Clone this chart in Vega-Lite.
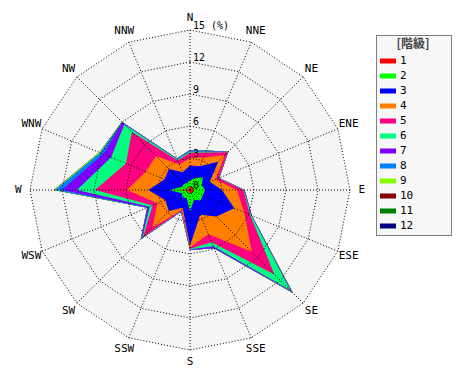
{
  "$schema": "https://vega.github.io/schema/vega-lite/v6.json",
  "width": 320,
  "height": 320,
  "autosize": "none",
  "padding": {"left": 30, "top": 30, "right": 120, "bottom": 30},
  "background": "white",
  "config": {"view": {"stroke": null}},
  "datasets": {
    "freq": [
      {"d": "N", "i": 0, "1": 0.3, "2": 0.6, "3": 1.4, "4": 0.7, "5": 0.5, "6": 0.1, "7": 0.05, "8": 0.1, "9": 0, "10": 0, "11": 0, "12": 0},
      {"d": "NNE", "i": 1, "1": 0.3, "2": 0.9, "3": 1.2, "4": 0.9, "5": 0.5, "6": 0.1, "7": 0.05, "8": 0.05, "9": 0, "10": 0, "11": 0, "12": 0},
      {"d": "NE", "i": 2, "1": 0.3, "2": 1.4, "3": 2.05, "4": 0.85, "5": 0.4, "6": 0.02, "7": 0.03, "8": 0.03, "9": 0, "10": 0, "11": 0, "12": 0},
      {"d": "ENE", "i": 3, "1": 0.3, "2": 0.9, "3": 0.8, "4": 0.6, "5": 0.3, "6": 0.02, "7": 0.03, "8": 0.02, "9": 0, "10": 0, "11": 0, "12": 0},
      {"d": "E", "i": 4, "1": 0.3, "2": 1.1, "3": 1.6, "4": 1.4, "5": 0.6, "6": 0.05, "7": 0.05, "8": 0.02, "9": 0, "10": 0, "11": 0, "12": 0},
      {"d": "ESE", "i": 5, "1": 0.3, "2": 1.0, "3": 3.2, "4": 1.0, "5": 0.6, "6": 0.1, "7": 0.05, "8": 0.03, "9": 0, "10": 0, "11": 0, "12": 0},
      {"d": "SE", "i": 6, "1": 0.3, "2": 1.1, "3": 2.1, "4": 4.7, "5": 3.0, "6": 2.1, "7": 0.2, "8": 0.05, "9": 0.1, "10": 0, "11": 0, "12": 0},
      {"d": "SSE", "i": 7, "1": 0.3, "2": 0.7, "3": 1.5, "4": 2.0, "5": 0.8, "6": 0.4, "7": 0.2, "8": 0.02, "9": 0, "10": 0, "11": 0, "12": 0},
      {"d": "S", "i": 8, "1": 0.3, "2": 1.7, "3": 3.2, "4": 0.2, "5": 0.1, "6": 0.05, "7": 0.05, "8": 0.02, "9": 0, "10": 0, "11": 0, "12": 0},
      {"d": "SSW", "i": 9, "1": 0.2, "2": 0.6, "3": 1.0, "4": 0.2, "5": 0.1, "6": 0.05, "7": 0.05, "8": 0, "9": 0, "10": 0, "11": 0, "12": 0},
      {"d": "SW", "i": 10, "1": 0.2, "2": 0.8, "3": 1.8, "4": 2.2, "5": 1.2, "6": 0.15, "7": 0.15, "8": 0.02, "9": 0, "10": 0, "11": 0, "12": 0},
      {"d": "WSW", "i": 11, "1": 0.2, "2": 0.6, "3": 1.7, "4": 0.8, "5": 0.5, "6": 0.3, "7": 0.2, "8": 0.05, "9": 0, "10": 0, "11": 0, "12": 0},
      {"d": "W", "i": 12, "1": 1.2, "2": 0.7, "3": 2.0, "4": 2.0, "5": 3.0, "6": 1.7, "7": 1.4, "8": 0.65, "9": 0.1, "10": 0, "11": 0, "12": 0},
      {"d": "WNW", "i": 13, "1": 0.2, "2": 0.6, "3": 1.8, "4": 1.9, "5": 2.0, "6": 1.5, "7": 0.8, "8": 0.3, "9": 0.1, "10": 0, "11": 0, "12": 0},
      {"d": "NW", "i": 14, "1": 0.2, "2": 0.6, "3": 2.0, "4": 1.7, "5": 3.2, "6": 1.0, "7": 0.25, "8": 0.05, "9": 0.02, "10": 0, "11": 0, "12": 0},
      {"d": "NNW", "i": 15, "1": 0.2, "2": 0.5, "3": 1.1, "4": 0.8, "5": 0.4, "6": 0.1, "7": 0.05, "8": 0.05, "9": 0, "10": 0, "11": 0, "12": 0}
    ],
    "dirs": [
      {"d": "N", "i": 0}, {"d": "NNE", "i": 1}, {"d": "NE", "i": 2}, {"d": "ENE", "i": 3},
      {"d": "E", "i": 4}, {"d": "ESE", "i": 5}, {"d": "SE", "i": 6}, {"d": "SSE", "i": 7},
      {"d": "S", "i": 8}, {"d": "SSW", "i": 9}, {"d": "SW", "i": 10}, {"d": "WSW", "i": 11},
      {"d": "W", "i": 12}, {"d": "WNW", "i": 13}, {"d": "NW", "i": 14}, {"d": "NNW", "i": 15}
    ],
    "levels": [
      {"lv": 3, "i": [0,1,2,3,4,5,6,7,8,9,10,11,12,13,14,15]},
      {"lv": 6, "i": [0,1,2,3,4,5,6,7,8,9,10,11,12,13,14,15]},
      {"lv": 9, "i": [0,1,2,3,4,5,6,7,8,9,10,11,12,13,14,15]},
      {"lv": 12, "i": [0,1,2,3,4,5,6,7,8,9,10,11,12,13,14,15]},
      {"lv": 15, "i": [0,1,2,3,4,5,6,7,8,9,10,11,12,13,14,15]}
    ],
    "ticks": [
      {"lv": 0, "t": "0"}, {"lv": 3, "t": "3"}, {"lv": 6, "t": "6"},
      {"lv": 9, "t": "9"}, {"lv": 12, "t": "12"}, {"lv": 15, "t": "15\u00a0(%)"}
    ]
  },
  "layer": [
    {
      "data": {"name": "levels"},
      "transform": [
        {"flatten": ["i"]},
        {"filter": "datum.lv == 15"},
        {"calculate": "datum.lv * sin(datum.i * PI / 8)", "as": "x"},
        {"calculate": "datum.lv * cos(datum.i * PI / 8)", "as": "y"}
      ],
      "mark": {"type": "line", "interpolate": "linear-closed", "filled": true, "fill": "#f5f5f5", "stroke": null},
      "encoding": {
        "x": {"field": "x", "type": "quantitative", "scale": {"domain": [-15, 15], "nice": false, "zero": false}, "axis": null},
        "y": {"field": "y", "type": "quantitative", "scale": {"domain": [-15, 15], "nice": false, "zero": false}, "axis": null},
        "order": {"field": "i", "type": "quantitative"}
      }
    },
    {
      "data": {"name": "freq"},
      "transform": [
        {"fold": ["12", "11", "10", "9", "8", "7", "6", "5", "4", "3", "2", "1"], "as": ["cls", "v"]},
        {"calculate": "toNumber(datum.cls)", "as": "k"},
        {"stack": "v", "groupby": ["d"], "sort": [{"field": "k", "order": "ascending"}], "as": ["r0", "r1"]},
        {"calculate": "datum.r1 * sin(datum.i * PI / 8)", "as": "x"},
        {"calculate": "datum.r1 * cos(datum.i * PI / 8)", "as": "y"}
      ],
      "mark": {"type": "line", "interpolate": "linear-closed", "filled": true, "strokeWidth": 0},
      "encoding": {
        "x": {"field": "x", "type": "quantitative", "scale": {"domain": [-15, 15], "nice": false, "zero": false}, "axis": null},
        "y": {"field": "y", "type": "quantitative", "scale": {"domain": [-15, 15], "nice": false, "zero": false}, "axis": null},
        "order": {"field": "i", "type": "quantitative"},
        "color": {
          "field": "cls", "type": "nominal",
          "scale": {
            "domain": ["1", "2", "3", "4", "5", "6", "7", "8", "9", "10", "11", "12"],
            "range": ["#ff0000", "#00ff00", "#0000ff", "#ff8000", "#ff0080", "#00ff80", "#8000ff", "#0080ff", "#80ff00", "#800000", "#008000", "#000080"]
          },
          "legend": {
            "title": "[階級]",
            "orient": "none", "legendX": 346, "legendY": 5,
            "titleFont": "Noto Sans CJK JP", "titleFontSize": 12, "titleFontWeight": "bold", "titleColor": "#444444",
            "titleAnchor": "middle", "titlePadding": 2,
            "padding": 4, "fillColor": "#f7f7f7", "strokeColor": "#000000",
            "symbolType": "M-1,-0.3125H1V0.3125H-1Z", "symbolSize": 256, "symbolStrokeWidth": 0,
            "labelFont": "DejaVu Sans Mono", "labelFontSize": 11, "labelColor": "#000000", "labelOffset": 4,
            "labelExpr": "pad(datum.label, 6, '\u2800')", "rowPadding": 2,
            "encode": {
              "legend": {"update": {"strokeDash": {"value": [1, 1]}}},
              "symbols": {"update": {"fill": {"scale": "color", "field": "value"}, "stroke": {"value": "transparent"}}}
            }
          }
        }
      }
    },
    {
      "data": {"name": "dirs"},
      "transform": [
        {"calculate": "15 * sin(datum.i * PI / 8)", "as": "x"},
        {"calculate": "15 * cos(datum.i * PI / 8)", "as": "y"}
      ],
      "mark": {"type": "rule", "color": "#000000", "strokeWidth": 1, "strokeDash": [1, 2]},
      "encoding": {
        "x": {"field": "x", "type": "quantitative"},
        "y": {"field": "y", "type": "quantitative"},
        "x2": {"datum": 0},
        "y2": {"datum": 0}
      }
    },
    {
      "data": {"name": "levels"},
      "transform": [
        {"flatten": ["i"]},
        {"calculate": "datum.lv * sin(datum.i * PI / 8)", "as": "x"},
        {"calculate": "datum.lv * cos(datum.i * PI / 8)", "as": "y"}
      ],
      "mark": {"type": "line", "interpolate": "linear-closed", "color": "#000000", "strokeWidth": 1, "strokeDash": [1, 2]},
      "encoding": {
        "x": {"field": "x", "type": "quantitative"},
        "y": {"field": "y", "type": "quantitative"},
        "detail": {"field": "lv", "type": "nominal"},
        "order": {"field": "i", "type": "quantitative"}
      }
    },
    {
      "data": {"name": "dirs"},
      "transform": [
        {"calculate": "16.1 * sin(datum.i * PI / 8)", "as": "x"},
        {"calculate": "16.1 * cos(datum.i * PI / 8)", "as": "y"}
      ],
      "mark": {"type": "text", "font": "DejaVu Sans Mono", "fontSize": 11, "color": "#000000", "align": "center", "baseline": "middle"},
      "encoding": {
        "x": {"field": "x", "type": "quantitative"},
        "y": {"field": "y", "type": "quantitative"},
        "text": {"field": "d"}
      }
    },
    {
      "data": {"name": "ticks"},
      "mark": {"type": "text", "font": "DejaVu Sans Mono", "fontSize": 10, "color": "#000000", "align": "left", "baseline": "bottom", "dx": 3, "dy": 1},
      "encoding": {
        "x": {"datum": 0, "type": "quantitative"},
        "y": {"field": "lv", "type": "quantitative"},
        "text": {"field": "t"}
      }
    }
  ]
}
